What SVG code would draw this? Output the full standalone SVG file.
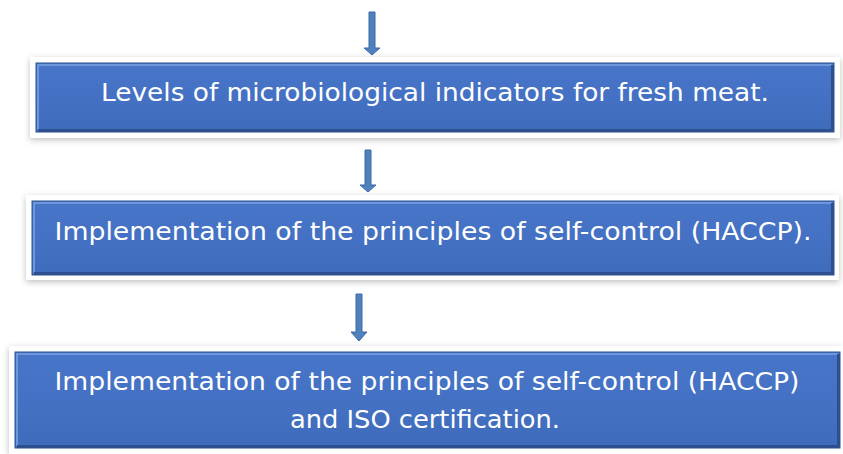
<svg xmlns="http://www.w3.org/2000/svg" width="843" height="454" viewBox="0 0 843 454">
<defs>
<filter id="sh" x="-5%" y="-20%" width="110%" height="140%">
<feDropShadow dx="0" dy="2" stdDeviation="3" flood-color="#000" flood-opacity="0.25"/>
</filter>
<linearGradient id="bev" x1="0" y1="0" x2="0" y2="1">
<stop offset="0" stop-color="#4775c8"/>
<stop offset="0.5" stop-color="#4471c3"/>
<stop offset="1" stop-color="#3f6bbb"/>
</linearGradient>
</defs>
<style>
.frame{fill:#fff;filter:url(#sh)}
.box{fill:url(#bev);stroke:#2f528f;stroke-width:1}
.hl{fill:none;stroke:#6f97dc;stroke-width:2}
.dk{fill:none;stroke:#2d4f8e;stroke-width:3}
.t{font-family:"DejaVu Sans","Liberation Sans",sans-serif;font-size:24px;fill:#fff;text-anchor:middle}
.arr{fill:#4f81bd;stroke:#3a6aa8;stroke-width:1}
</style>
<rect width="843" height="454" fill="#fff"/>
<g id="connectors">
<path class="arr" d="M369,12 H375 V48 H380 L372,55 L364,48 H369 Z"/>
<path class="arr" d="M365,150 H371 V185 H376 L368,192 L360,185 H365 Z"/>
<path class="arr" d="M356,294 H362 V332 H367 L359,341 L351,332 H356 Z"/>
</g>
<g id="node1">
<rect class="frame" x="30" y="57" width="810" height="81"/>
<rect class="box" x="36" y="63" width="798" height="69"/>
<path class="hl" d="M38,130 V65 H832"/>
<path class="dk" d="M38,130.5 H832.5 V65"/>
<text class="t" x="435" y="101" textLength="668" lengthAdjust="spacingAndGlyphs">Levels of microbiological indicators for fresh meat.</text>
</g>
<g id="node2">
<rect class="frame" x="26" y="195" width="813" height="85"/>
<rect class="box" x="32" y="201" width="802" height="74"/>
<path class="hl" d="M34,273 V203 H832"/>
<path class="dk" d="M34,273.5 H832.5 V203"/>
<text class="t" x="433" y="240" textLength="757" lengthAdjust="spacingAndGlyphs">Implementation of the principles of self-control (HACCP).</text>
</g>
<g id="node3">
<rect class="frame" x="9" y="346" width="834" height="108"/>
<rect class="box" x="15" y="352" width="825" height="96"/>
<path class="hl" d="M17,446 V354 H838"/>
<path class="dk" d="M17,446.5 H838.5 V354"/>
<text class="t" x="427" y="390" textLength="745" lengthAdjust="spacingAndGlyphs">Implementation of the principles of self-control (HACCP)</text>
<text class="t" x="425" y="428" textLength="270" lengthAdjust="spacingAndGlyphs">and ISO certification.</text>
</g>
</svg>
